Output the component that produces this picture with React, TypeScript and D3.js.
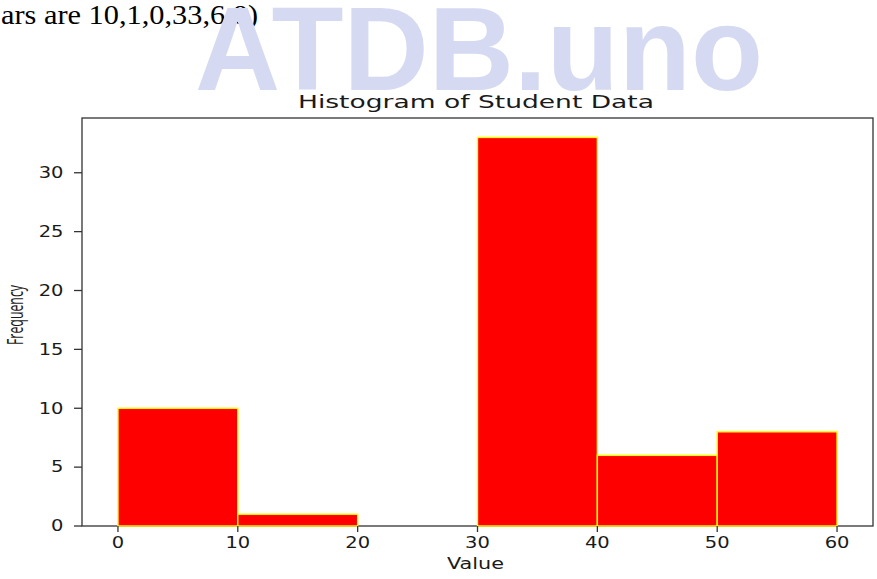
import React from "react";
import * as d3 from "d3";

const binEdges = [0, 10, 20, 30, 40, 50, 60];
const counts = [10, 1, 0, 33, 6, 8];
const xTicks = [0, 10, 20, 30, 40, 50, 60];
const yTicks = [0, 5, 10, 15, 20, 25, 30];
const titleText = "Histogram of Student Data";
const xLabel = "Value";
const yLabel = "Frequency";
const captionText = "ars are 10,1,0,33,6,8)";
const watermark = "ATDB.uno";

const W = 877;
const H = 579;
const left = 82, right = 873, top = 118, bottom = 526;

export default function App() {
  const maxC = d3.max(counts) as number;
  const x = d3.scaleLinear().domain([-3, 63]).range([left, right]);
  const y = d3.scaleLinear().domain([0, maxC * 1.05]).range([bottom, top]);
  const bins = counts.map((c, i) => ({ x0: binEdges[i], x1: binEdges[i + 1], c }));
  const tickFont = "DejaVu Sans, sans-serif";
  const sx = 1.3;
  return (
    <svg width={W} height={H} style={{ position: "absolute", left: 0, top: 0, background: "#fff" }}>
      <rect x={0} y={0} width={W} height={H} fill="#fff" />
      <text x={1} y={24} fontFamily="Liberation Serif, Times New Roman, serif" fontSize={28}
        textLength={257} lengthAdjust="spacingAndGlyphs" fill="#000">{captionText}</text>
      <text x={195} y={90} fontFamily="Liberation Sans, Arial, sans-serif" fontWeight="bold" fontSize={119}
        textLength={568} lengthAdjust="spacingAndGlyphs" fill="rgb(213,218,242)">{watermark}</text>
      <text x={298} y={107.5} fontFamily={tickFont} fontSize={17.5}
        textLength={356} lengthAdjust="spacingAndGlyphs" fill="#1a1a1a">{titleText}</text>
      <rect x={left} y={top} width={right - left} height={bottom - top} fill="none" stroke="#333" strokeWidth={1.3} />
      {bins.map((b, i) => (
        <rect key={i} x={x(b.x0)} y={y(b.c) - (b.c === 0 ? 1 : 0)} width={x(b.x1) - x(b.x0)} height={bottom - y(b.c)}
          fill="#ff0000" stroke="#ffff00" strokeWidth={1.4} />
      ))}
      {xTicks.map((t) => (
        <g key={"x" + t}>
          <line x1={x(t)} x2={x(t)} y1={bottom} y2={bottom + 6} stroke="#333" strokeWidth={1.3} />
          <g transform={`translate(${x(t)},${547.5}) scale(${sx},1)`}>
            <text textAnchor="middle" fontFamily={tickFont} fontSize={15} fill="#1a1a1a">{t}</text>
          </g>
        </g>
      ))}
      {yTicks.map((t) => (
        <g key={"y" + t}>
          <line x1={left - 8} x2={left} y1={y(t)} y2={y(t)} stroke="#333" strokeWidth={1.3} />
          <g transform={`translate(${63.5},${y(t) + 5.3}) scale(${sx},1)`}>
            <text textAnchor="end" fontFamily={tickFont} fontSize={15} fill="#1a1a1a">{t}</text>
          </g>
        </g>
      ))}
      <text x={447} y={569} fontFamily={tickFont} fontSize={15}
        textLength={57} lengthAdjust="spacingAndGlyphs" fill="#1a1a1a">{xLabel}</text>
      <g transform={`translate(23,315) scale(1.4,1) rotate(-90)`}>
        <text x={-30} y={0} fontFamily="Open Sans, Noto Sans, sans-serif" fontSize={15}
          textLength={60} lengthAdjust="spacingAndGlyphs" fill="#1a1a1a">{yLabel}</text>
      </g>
    </svg>
  );
}
